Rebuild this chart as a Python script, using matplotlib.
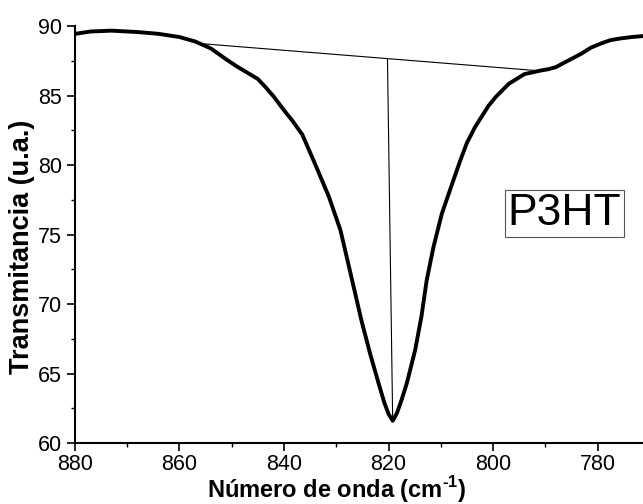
import matplotlib
matplotlib.use("Agg")
import matplotlib.pyplot as plt
from matplotlib.ticker import MultipleLocator

plt.rcParams["font.family"] = ["Liberation Sans", "DejaVu Sans"]
plt.rcParams["mathtext.fontset"] = "custom"
plt.rcParams["mathtext.rm"] = "Liberation Sans"
plt.rcParams["mathtext.bf"] = "Liberation Sans:bold"

# FTIR band of P3HT
wavenumber = [880, 877, 873, 868, 864, 860, 857, 854, 851, 849, 847, 845,
              843.5, 842, 840, 838.4, 836.5, 834.3, 831.4, 829.2,
              827.2, 825.2, 823.5, 821.9, 820.8, 820.0, 819.2, 818.4, 817.5,
              816.5, 814.9, 813.7, 812.7, 811.4, 809.8, 807.6, 806.3, 805.0,
              803.5, 802.0, 800.8, 799.5, 797.0, 794.0, 791.0, 789.5, 788.0,
              786.0, 783.2, 781.3, 779.4, 777.5, 775.6, 773.5, 771.0]
transmittance = [89.45, 89.62, 89.68, 89.58, 89.45, 89.22, 88.9, 88.4, 87.6,
                 87.1, 86.65, 86.2, 85.6, 84.95, 83.95, 83.2, 82.2, 80.3,
                 77.72, 75.32, 72.1, 68.85, 66.4, 64.3, 62.9, 62.1,
                 61.6, 62.14, 63.1, 64.3, 66.7, 69.1, 71.7, 74.1, 76.5, 78.9,
                 80.3, 81.6, 82.7, 83.6, 84.3, 84.9, 85.85, 86.55, 86.8,
                 86.9, 87.05, 87.45, 88.0, 88.45, 88.75, 89.0, 89.12, 89.22,
                 89.3]

# baseline drawn under the band and the drop to the minimum
baseline_x = [856.0, 791.5]
baseline_y = [88.75, 86.8]
drop_x = [820.2, 819.2]
drop_y = [87.65, 61.6]

sample_name = "P3HT"


def main():
    fig = plt.figure(figsize=(6.43, 5.04), dpi=100)
    ax = fig.add_axes([0.1166, 0.121, 0.8834, 0.827])

    ax.plot(wavenumber, transmittance, color="black", lw=2.8,
            solid_joinstyle="round", solid_capstyle="round")
    ax.plot(baseline_x, baseline_y, color="black", lw=0.8)
    ax.plot(drop_x, drop_y, color="black", lw=0.8)

    ax.set_xlim(880, 771.3)
    ax.set_ylim(60, 90)
    ax.xaxis.set_major_locator(MultipleLocator(20))
    ax.xaxis.set_minor_locator(MultipleLocator(10))
    ax.yaxis.set_major_locator(MultipleLocator(5))
    ax.yaxis.set_minor_locator(MultipleLocator(2.5))

    for side in ("top", "right"):
        ax.spines[side].set_visible(False)
    for side in ("left", "bottom"):
        ax.spines[side].set_linewidth(1.5)

    ax.tick_params(which="major", direction="out", length=5.5, width=1.2,
                   labelsize=15.5, pad=4)
    ax.tick_params(axis="x", which="major", pad=2.5)
    ax.tick_params(which="minor", direction="out", length=3, width=1.0)

    ax.text(786.4, 75.68, sample_name, fontsize=32, ha="center",
            va="baseline",
            bbox=dict(boxstyle="square,pad=0.06", fc="white", ec="#555555",
                      lw=0.8))

    fig.text(336.5 / 643, 1 - 498 / 504, "Número de onda (cm$^{\\mathbf{‐1}}$)",
             fontsize=17, fontweight="bold", ha="center", va="baseline")
    fig.text(22 / 643, 1 - 246.5 / 504, "Transmitancia (u.a.)", fontsize=19.5,
             fontweight="bold", ha="center", va="center", rotation=90)

    fig.savefig("out.png", dpi=100)
    plt.close(fig)


if __name__ == "__main__":
    main()
